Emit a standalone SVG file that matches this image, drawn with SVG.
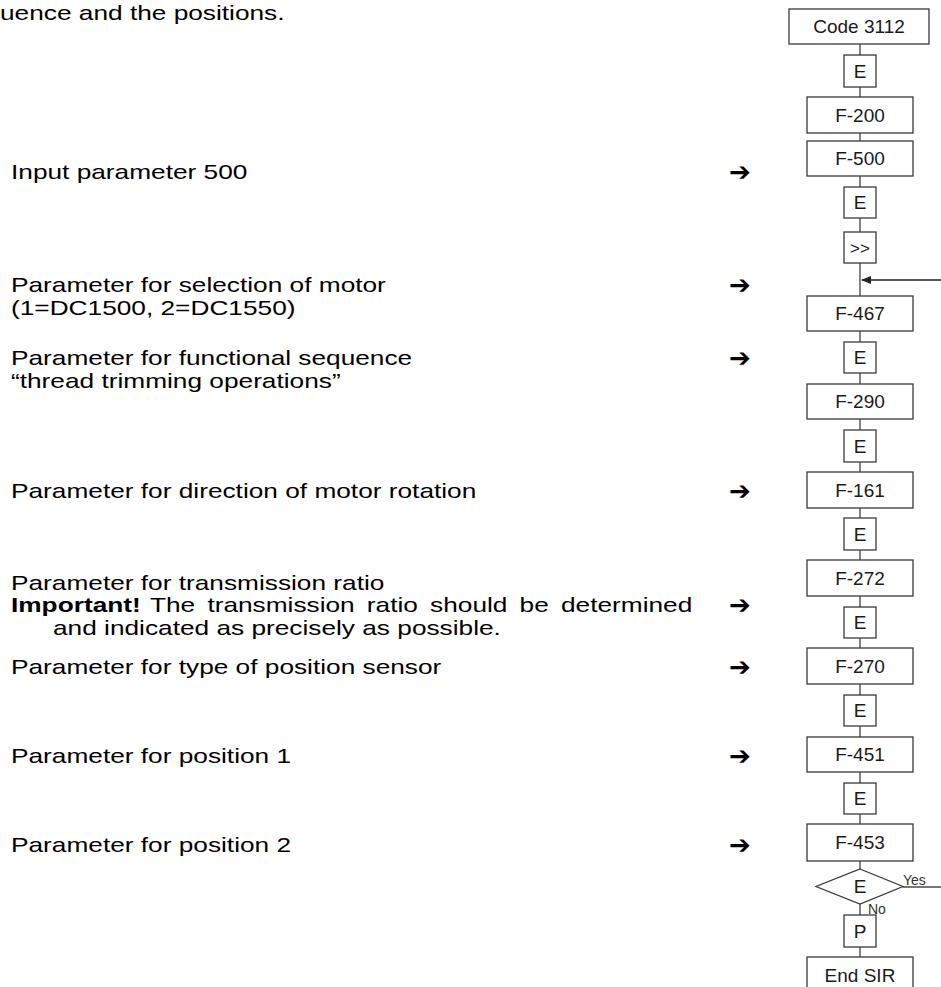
<svg xmlns="http://www.w3.org/2000/svg" width="941" height="987" viewBox="0 0 941 987">
<defs>
<style>
.lt{font-family:"Liberation Sans",Arial,sans-serif;font-size:21px;fill:#000}
.bx{fill:#fff;stroke:#3a3a3a;stroke-width:1.3}
.bt{font-family:"Liberation Sans",Arial,sans-serif;font-size:19px;fill:#1a1a1a;text-anchor:middle}
.sm{font-family:"Liberation Sans",Arial,sans-serif;font-size:14px;fill:#333}
.ar{font-family:"DejaVu Sans",sans-serif;font-size:26px;fill:#000}
.cn{stroke:#777;stroke-width:1.8;fill:none}
</style>
<marker id="ah" markerWidth="10" markerHeight="8" refX="9" refY="4" orient="auto" markerUnits="userSpaceOnUse">
<path d="M0,0 L10,4 L0,8 Z" fill="#222"/>
</marker>
</defs>
<rect width="941" height="987" fill="#fff"/>

<g id="connectors">
<line class="cn" x1="860" y1="44" x2="860" y2="957"/>
<line class="cn" x1="903" y1="887" x2="941" y2="887"/>
<line x1="941" y1="280" x2="862" y2="280" stroke="#222" stroke-width="1.3" marker-end="url(#ah)"/>
</g>

<g id="left-text" transform="scale(1.25,1)">
<text class="lt" x="0" y="20">uence and the positions.</text>
<text class="lt" x="8.8" y="179">Input parameter 500</text>
<text class="lt" x="8.8" y="292">Parameter for selection of motor</text>
<text class="lt" x="8.8" y="315">(1=DC1500, 2=DC1550)</text>
<text class="lt" x="8.8" y="365">Parameter for functional sequence</text>
<text class="lt" x="8.8" y="388">“thread trimming operations”</text>
<text class="lt" x="8.8" y="498">Parameter for direction of motor rotation</text>
<text class="lt" x="8.8" y="590">Parameter for transmission ratio</text>
<text class="lt" x="8.8" y="612" font-weight="bold">Important!</text>
<text class="lt" x="120" y="612" word-spacing="3.9">The transmission ratio should be determined</text>
<text class="lt" x="42.4" y="635">and indicated as precisely as possible.</text>
<text class="lt" x="8.8" y="674">Parameter for type of position sensor</text>
<text class="lt" x="8.8" y="763">Parameter for position 1</text>
<text class="lt" x="8.8" y="852">Parameter for position 2</text>
</g>

<g id="arrows">
<text class="ar" x="729" y="181">➔</text>
<text class="ar" x="729" y="294">➔</text>
<text class="ar" x="729" y="367">➔</text>
<text class="ar" x="729" y="500">➔</text>
<text class="ar" x="729" y="614">➔</text>
<text class="ar" x="729" y="676">➔</text>
<text class="ar" x="729" y="765">➔</text>
<text class="ar" x="729" y="854">➔</text>
</g>

<g id="code3112"><rect class="bx" x="789" y="9" width="140" height="35"/><text class="bt" x="859" y="33">Code 3112</text></g>
<g id="e1"><rect class="bx" x="844" y="55" width="32" height="32"/><text class="bt" x="860" y="78">E</text></g>
<g id="f200"><rect class="bx" x="807" y="97" width="106" height="36"/><text class="bt" x="860" y="122">F-200</text></g>
<g id="f500"><rect class="bx" x="807" y="141" width="106" height="35"/><text class="bt" x="860" y="165">F-500</text></g>
<g id="e2"><rect class="bx" x="844" y="187" width="32" height="31"/><text class="bt" x="860" y="209">E</text></g>
<g id="ff"><rect class="bx" x="844" y="232" width="32" height="31"/><text class="bt" x="860" y="254" style="font-size:17px">&gt;&gt;</text></g>
<g id="f467"><rect class="bx" x="807" y="296" width="106" height="35"/><text class="bt" x="860" y="320">F-467</text></g>
<g id="e3"><rect class="bx" x="844" y="342" width="32" height="31"/><text class="bt" x="860" y="364">E</text></g>
<g id="f290"><rect class="bx" x="807" y="384" width="106" height="35"/><text class="bt" x="860" y="408">F-290</text></g>
<g id="e4"><rect class="bx" x="844" y="430" width="32" height="32"/><text class="bt" x="860" y="453">E</text></g>
<g id="f161"><rect class="bx" x="807" y="472" width="106" height="36"/><text class="bt" x="860" y="497">F-161</text></g>
<g id="e5"><rect class="bx" x="844" y="518" width="32" height="32"/><text class="bt" x="860" y="541">E</text></g>
<g id="f272"><rect class="bx" x="807" y="560" width="106" height="36"/><text class="bt" x="860" y="585">F-272</text></g>
<g id="e6"><rect class="bx" x="844" y="607" width="32" height="31"/><text class="bt" x="860" y="629">E</text></g>
<g id="f270"><rect class="bx" x="807" y="648" width="106" height="36"/><text class="bt" x="860" y="673">F-270</text></g>
<g id="e7"><rect class="bx" x="844" y="695" width="32" height="31"/><text class="bt" x="860" y="717">E</text></g>
<g id="f451"><rect class="bx" x="807" y="737" width="106" height="35"/><text class="bt" x="860" y="761">F-451</text></g>
<g id="e8"><rect class="bx" x="844" y="783" width="32" height="31"/><text class="bt" x="860" y="805">E</text></g>
<g id="f453"><rect class="bx" x="807" y="824" width="106" height="37"/><text class="bt" x="860" y="849">F-453</text></g>
<g id="decision"><polygon class="bx" points="860,869 903,886.5 860,904 816,886.5"/><text class="bt" x="860" y="893">E</text>
<text class="sm" x="903" y="885">Yes</text><text class="sm" x="868" y="914">No</text></g>
<g id="p"><rect class="bx" x="844" y="915" width="32" height="32"/><text class="bt" x="860" y="938">P</text></g>
<g id="endsir"><rect class="bx" x="807" y="957" width="106" height="40"/><text class="bt" x="860" y="982">End SIR</text></g>
</svg>
